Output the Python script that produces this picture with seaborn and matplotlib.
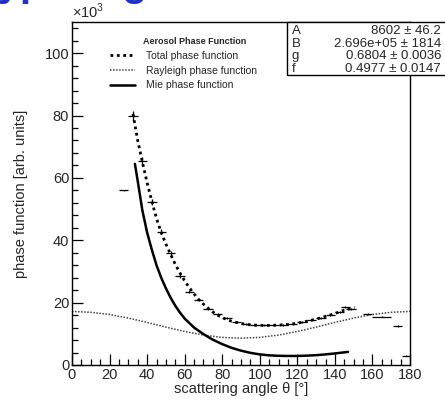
import matplotlib
matplotlib.use("Agg")
import matplotlib.pyplot as plt
from matplotlib.patches import Rectangle
from matplotlib.ticker import MultipleLocator
import numpy as np
import pandas as pd
import seaborn as sns

# measured bins (angle centre, half width, value in 1e3 units, error)
bin_angle = [27.5, 32.5, 37.5, 42.5, 47.5, 52.5, 57.5, 62.5, 67.5, 72.5, 77.5,
             82.5, 87.5, 92.5, 97.5, 102.5, 107.5, 112.5, 117.5, 122.5, 127.5,
             132.5, 137.5, 142.5, 145.5, 148.5, 157.5, 165.0, 173.5, 178.0]
bin_half = [2.5, 2.5, 2.5, 2.5, 2.5, 2.5, 2.5, 2.5, 2.5, 2.5, 2.5,
            2.5, 2.5, 2.5, 2.5, 2.5, 2.5, 2.5, 2.5, 2.5, 2.5,
            2.5, 2.5, 2.5, 2.5, 2.5, 2.5, 5.0, 2.5, 2.0]
bin_value = [56.0, 79.8, 65.5, 52.3, 42.8, 35.8, 28.5, 23.5, 20.8, 18.0, 16.3,
             15.0, 13.8, 13.2, 12.9, 12.8, 12.8, 12.9, 13.2, 13.7, 14.3,
             15.2, 16.0, 17.0, 18.6, 18.0, 16.3, 15.5, 12.5, 3.0]
bin_err = [0.2, 1.6, 1.3, 1.0, 0.8, 0.7, 0.6, 0.5, 0.4, 0.4, 0.3,
           0.3, 0.3, 0.3, 0.3, 0.3, 0.3, 0.3, 0.3, 0.3, 0.3,
           0.3, 0.3, 0.3, 0.4, 0.3, 0.3, 0.2, 0.2, 0.1]

# fitted curves
total_angle = [32.5, 35, 37.5, 40, 42.5, 45, 47.5, 50, 52.5, 55, 57.5, 60, 62.5,
               65, 67.5, 70, 72.5, 75, 77.5, 80, 85, 90, 95, 100, 105, 110, 115,
               120, 125, 130, 135, 140, 145, 150.5]
total_value = [80.5, 72.0, 65.0, 58.5, 52.5, 47.0, 42.5, 38.8, 35.5, 32.3, 29.5,
               27.0, 24.8, 22.8, 21.0, 19.5, 18.2, 17.0, 16.0, 15.2, 14.0, 13.3,
               12.9, 12.7, 12.7, 12.8, 13.0, 13.4, 14.0, 14.7, 15.6, 16.5, 17.6,
               18.4]

rayleigh_angle = [0, 10, 20, 30, 40, 50, 60, 70, 80, 90, 100, 110, 120, 130,
                  140, 150, 160, 170, 180]
rayleigh_value = [17.2, 16.9, 16.2, 15.05, 13.65, 12.15, 10.75, 9.6, 8.85, 8.6,
                  8.85, 9.6, 10.75, 12.15, 13.65, 15.05, 16.2, 16.9, 17.2]

mie_angle = [33.5, 35, 37.5, 40, 42.5, 45, 47.5, 50, 52.5, 55, 57.5, 60, 65,
             70, 75, 80, 85, 90, 95, 100, 105, 110, 115, 120, 125, 130, 135,
             140, 147]
mie_value = [64.5, 59.0, 49.5, 42.5, 37.0, 32.0, 28.0, 24.6, 21.6, 19.0, 16.8,
             14.9, 12.0, 9.9, 8.1, 6.7, 5.5, 4.6, 3.9, 3.4, 3.1, 2.95, 2.9,
             2.9, 3.0, 3.15, 3.4, 3.7, 4.2]

fit_names = ["A", "B", "g", "f"]
fit_values = ["8602 ± 46.2", "2.696e+05 ± 1814", "0.6804 ± 0.0036",
              "0.4977 ± 0.0147"]

sns.set_theme(style="white")
plt.rcParams["font.family"] = ["Liberation Sans", "DejaVu Sans"]
plt.rcParams["mathtext.fontset"] = "custom"
plt.rcParams["mathtext.rm"] = "Liberation Sans"

fig = plt.figure(figsize=(4.45, 4.0), dpi=100)
ax = fig.add_axes([72 / 445, 35 / 400, 338 / 445, 343 / 400])

total_df = pd.DataFrame({"angle": total_angle, "value": total_value})
ray_df = pd.DataFrame({"angle": rayleigh_angle, "value": rayleigh_value})
mie_df = pd.DataFrame({"angle": mie_angle, "value": mie_value})

sns.lineplot(data=total_df, x="angle", y="value", ax=ax, color="black",
             lw=2.0, linestyle=(0, (1, 1.3)), label="Total phase function")
sns.lineplot(data=ray_df, x="angle", y="value", ax=ax, color="#444444",
             lw=1.1, linestyle=(0, (1, 1)), label="Rayleigh phase function")
sns.lineplot(data=mie_df, x="angle", y="value", ax=ax, color="black",
             lw=1.8, label="Mie phase function")

ax.errorbar(bin_angle, bin_value, xerr=bin_half, yerr=bin_err, fmt="none",
            ecolor="black", elinewidth=0.9, capsize=0, zorder=5)

ax.set_xlim(0, 180)
ax.set_ylim(0, 110)
ax.xaxis.set_major_locator(MultipleLocator(20))
ax.xaxis.set_minor_locator(MultipleLocator(5))
ax.yaxis.set_major_locator(MultipleLocator(20))
ax.yaxis.set_minor_locator(MultipleLocator(4))
ax.tick_params(which="both", direction="in", bottom=True, left=True,
               top=False, right=False, labelsize=10.5, pad=2, color="black")
ax.tick_params(which="major", length=8, width=0.9)
ax.tick_params(which="minor", length=4, width=0.9)
for s in ax.spines.values():
    s.set_color("black")
    s.set_linewidth(1.0)

ax.set_xlabel("scattering angle θ [°]", fontsize=10.5, labelpad=0)
ax.set_ylabel("phase function [arb. units]", fontsize=10.5, labelpad=12)
ax.text(0, 1.003, r"$\times10^{3}$", transform=ax.transAxes, ha="left",
        va="bottom", fontsize=10.5)

leg = ax.legend(loc="upper left", bbox_to_anchor=(110 / 445, 1 - 51 / 400),
                bbox_transform=fig.transFigure, frameon=False, fontsize=7.5,
                handlelength=2.4, handletextpad=1.1, labelspacing=0.45,
                borderpad=0, borderaxespad=0)
fig.text(143 / 445, 1 - 42 / 400, "Aerosol Phase Function", fontsize=6.5,
         fontweight="bold", ha="left", va="center")

# fit statistics box
fig.patches.append(Rectangle((287 / 445, 1 - 75 / 400), 0.4, 53 / 400,
                             transform=fig.transFigure, facecolor="white",
                             edgecolor="black", lw=1.0, zorder=10))
for i, (n, v) in enumerate(zip(fit_names, fit_values)):
    y = 1 - (31 + 12.7 * i) / 400
    fig.text(292 / 445, y, n, fontsize=9.5, ha="left", va="center", zorder=11)
    fig.text(441 / 445, y, v, fontsize=9.5, ha="right", va="center", zorder=11)

# page title, mostly above the visible area
fig.text(-24 / 445, 1 + 4 / 400, "Typical good fit", fontsize=29,
         fontweight="bold", color="#1f2fc8", ha="left", va="baseline")

fig.savefig("out.png", dpi=100)
